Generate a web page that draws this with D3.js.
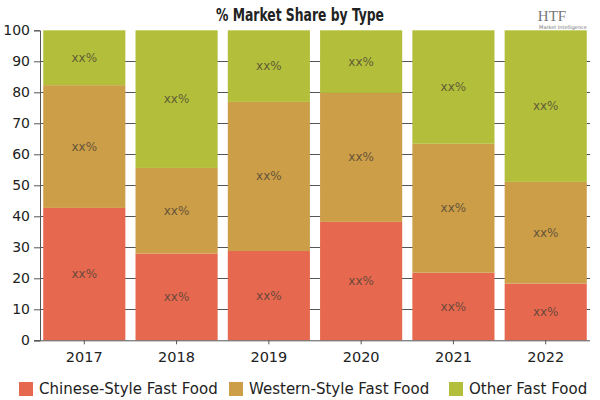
<!DOCTYPE html>
<html><head><meta charset="utf-8">
<script src="https://cdn.jsdelivr.net/npm/d3@7"></script>
<style>body{margin:0;background:#fff}svg{display:block}</style>
</head><body>
<svg id="c" width="600" height="400"></svg>
<script>
const years = ["2017","2018","2019","2020","2021","2022"];
const seriesNames = ["Chinese-Style Fast Food","Western-Style Fast Food","Other Fast Food"];
const chinese = [42.7, 28.0, 28.8, 38.2, 21.8, 18.3];
const western = [39.6, 27.6, 48.1, 41.6, 41.6, 32.8];
const other   = [17.7, 44.4, 23.1, 20.2, 36.6, 48.9];
const yTicks = [0,10,20,30,40,50,60,70,80,90,100];
const segLabel = "xx%";
const colors = ["#E6694F","#CC9E48","#B3BF3B"];

const svg = d3.select("#c");
const x = d3.scaleBand().domain(years).range([40,590]).paddingInner(0.11).paddingOuter(0.035);
const y = d3.scaleLinear().domain([0,100]).range([340.3,30.3]);

const rows = years.map((yr,i)=>({year:yr, s0:chinese[i], s1:western[i], s2:other[i]}));
const stack = d3.stack().keys(["s0","s1","s2"]);
const stacked = stack(rows);

// gridlines
svg.append("g").selectAll("line").data(yTicks.filter(d=>d>0 && d<100)).join("line")
  .attr("x1",40).attr("x2",590).attr("y1",d=>Math.round(y(d))+0.5).attr("y2",d=>Math.round(y(d))+0.5)
  .attr("stroke","#555").attr("stroke-width",1);

// bars
const g = svg.append("g");
stacked.forEach((layer,k)=>{
  g.append("g").selectAll("rect").data(layer).join("rect")
    .attr("x",d=>x(d.data.year)).attr("width",x.bandwidth())
    .attr("y",d=>y(Math.min(d[1],100))).attr("height",d=>y(d[0])-y(Math.min(d[1],100)))
    .attr("fill",colors[k]);
  g.append("g").selectAll("text").data(layer).join("text")
    .attr("x",d=>x(d.data.year)+x.bandwidth()/2)
    .attr("y",d=>y((d[0]+Math.min(d[1],100))/2)+4)
    .attr("text-anchor","middle").attr("font-family","DejaVu Sans, sans-serif")
    .attr("font-size",12).attr("fill","#4a3f35").attr("fill-opacity",0.8)
    .text(segLabel);
});

// y axis
const ya = svg.append("g").attr("transform","translate(40,0)")
  .call(d3.axisLeft(y).tickValues(yTicks).tickSize(6).tickPadding(4));
ya.select(".domain").attr("stroke","#555");
ya.selectAll(".tick line").attr("stroke","#555");
ya.selectAll("text").attr("font-family","DejaVu Sans, sans-serif").attr("font-size",14).attr("fill","#222");

// x axis
const xa = svg.append("g").attr("transform","translate(0,340.3)")
  .call(d3.axisBottom(x).tickSize(4).tickPadding(7));
xa.select(".domain").attr("stroke","#555").attr("d","M34,0.5H590");
xa.selectAll(".tick line").attr("stroke","#555");
xa.selectAll("text").attr("font-family","DejaVu Sans, sans-serif").attr("font-size",14.5).attr("fill","#222");

// title
svg.append("text").attr("x",300).attr("y",21).attr("text-anchor","middle")
  .attr("font-family","DejaVu Sans Condensed, Liberation Sans Narrow, sans-serif")
  .attr("font-weight","bold").attr("font-size",18).attr("fill","#222")
  .attr("textLength",168).attr("lengthAdjust","spacingAndGlyphs")
  .text("% Market Share by Type");

// logo
svg.append("text").attr("x",552).attr("y",21).attr("text-anchor","middle")
  .attr("font-family","Liberation Serif, serif").attr("font-size",15).attr("fill","#777").text("HTF");
svg.append("text").attr("x",563).attr("y",29).attr("text-anchor","middle")
  .attr("font-family","DejaVu Sans, sans-serif").attr("font-size",5).attr("fill","#777").text("Market Intelligence");

// legend
const legX = [19, 229, 449];
const leg = svg.append("g").selectAll("g").data(seriesNames).join("g")
  .attr("transform",(d,i)=>`translate(${legX[i]},382)`);
leg.append("rect").attr("width",14).attr("height",14).attr("fill",(d,i)=>colors[i]);
leg.append("text").attr("x",20).attr("y",12).attr("font-family","DejaVu Sans, sans-serif")
  .attr("font-size",15).attr("fill","#222").text(d=>d);
</script>
</body></html>
